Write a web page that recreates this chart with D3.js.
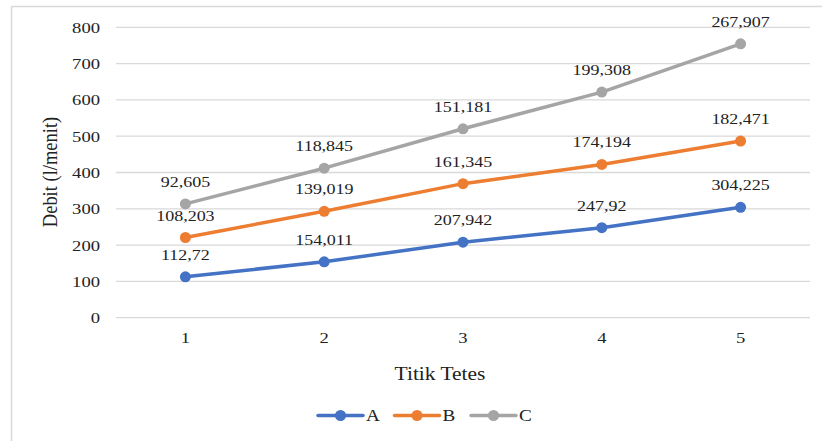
<!DOCTYPE html>
<html>
<head>
<meta charset="utf-8">
<script src="https://cdn.jsdelivr.net/npm/d3@7"></script>
<style>
  html, body { margin: 0; padding: 0; background: #fff; }
  svg, svg text { font-family: "Liberation Serif", "Times New Roman", serif !important; }
</style>
</head>
<body>
<svg id="chart" width="822" height="441"></svg>
<script>
// Debit per drip point, stacked by series (A at the bottom, then B, then C)
const categories = ["1", "2", "3", "4", "5"];
const seriesNames = ["A", "B", "C"];
const valuesA = [112.72, 154.011, 207.942, 247.92, 304.225];
const valuesB = [108.203, 139.019, 161.345, 174.194, 182.471];
const valuesC = [92.605, 118.845, 151.181, 199.308, 267.907];
const labelsA = ["112,72", "154,011", "207,942", "247,92", "304,225"];
const labelsB = ["108,203", "139,019", "161,345", "174,194", "182,471"];
const labelsC = ["92,605", "118,845", "151,181", "199,308", "267,907"];
const yTicks = [0, 100, 200, 300, 400, 500, 600, 700, 800];
const colors = ["#4472C4", "#ED7D31", "#A5A5A5"];

// text in this chart is set slightly wide
const WIDE = "scale(1.2,1)";

const rows = categories.map((c, i) => ({
  cat: c, A: valuesA[i], B: valuesB[i], C: valuesC[i],
  labels: { A: labelsA[i], B: labelsB[i], C: labelsC[i] }
}));
const stacked = d3.stack().keys(seriesNames)(rows);

const svg = d3.select("#chart");
const plot = { left: 116, right: 810, top: 27.3, bottom: 317.7 };

// outer frame
svg.append("rect")
  .attr("x", 11.5).attr("y", 6.5)
  .attr("width", 830).attr("height", 450)
  .attr("fill", "#fff").attr("stroke", "#d9d9d9").attr("stroke-width", 1.5);

const x = d3.scaleBand().domain(categories).range([plot.left, plot.right]);
const y = d3.scaleLinear().domain([0, 800]).range([plot.bottom, plot.top]);
const cx = d => x(d) + x.bandwidth() / 2;

// horizontal gridlines
svg.append("g")
  .selectAll("line").data(yTicks).join("line")
  .attr("x1", plot.left).attr("x2", plot.right)
  .attr("y1", d => y(d)).attr("y2", d => y(d))
  .attr("stroke", "#d9d9d9").attr("stroke-width", 1.3);

// y axis tick labels
const yAxis = svg.append("g")
  .attr("transform", `translate(${plot.left - 16},0)`)
  .call(d3.axisLeft(y).tickValues(yTicks).tickSize(0).tickPadding(0));
yAxis.select(".domain").remove();
yAxis.selectAll("text")
  .attr("font-size", 15.5).attr("fill", "#222").attr("transform", WIDE);

// x axis tick labels
const xAxis = svg.append("g")
  .attr("transform", `translate(0,${plot.bottom + 14})`)
  .call(d3.axisBottom(x).tickSize(0).tickPadding(0));
xAxis.select(".domain").remove();
xAxis.selectAll("text")
  .attr("font-size", 15.5).attr("fill", "#222").attr("transform", WIDE);

// axis titles
svg.append("text")
  .attr("transform", `translate(440,380) scale(1.16,1)`)
  .attr("text-anchor", "middle").attr("font-size", 18.5).attr("fill", "#222")
  .text("Titik Tetes");
svg.append("text")
  .attr("transform", `translate(57,172) rotate(-90) scale(1,1.16)`)
  .attr("text-anchor", "middle").attr("font-size", 18.5).attr("fill", "#222")
  .text("Debit (l/menit)");

// lines, markers and value labels
const line = d3.line().x(d => cx(d.data.cat)).y(d => y(d[1]));
stacked.forEach((layer, si) => {
  const g = svg.append("g");
  g.append("path").datum(layer)
    .attr("d", line).attr("fill", "none")
    .attr("stroke", colors[si]).attr("stroke-width", 3.5)
    .attr("stroke-linejoin", "round").attr("stroke-linecap", "round");
  g.selectAll("circle").data(layer).join("circle")
    .attr("cx", d => cx(d.data.cat)).attr("cy", d => y(d[1]))
    .attr("r", 5.5).attr("fill", colors[si]);
  g.selectAll("text").data(layer).join("text")
    .attr("transform", d => `translate(${cx(d.data.cat)},${y(d[1]) - 17}) ${WIDE}`)
    .attr("text-anchor", "middle").attr("font-size", 15).attr("fill", "#222")
    .text(d => d.data.labels[layer.key]);
});

// legend
const legend = svg.append("g").attr("transform", "translate(318,415.5)");
seriesNames.forEach((name, i) => {
  const g = legend.append("g").attr("transform", `translate(${i * 76.5},0)`);
  g.append("line").attr("x1", 0).attr("x2", 45).attr("y1", 0).attr("y2", 0)
    .attr("stroke", colors[i]).attr("stroke-width", 3.5).attr("stroke-linecap", "round");
  g.append("circle").attr("cx", 22.5).attr("cy", 0).attr("r", 5.5).attr("fill", colors[i]);
  g.append("text").attr("transform", `translate(48,5.5) ${WIDE}`)
    .attr("font-size", 16).attr("fill", "#222").text(name);
});
</script>
</body>
</html>
